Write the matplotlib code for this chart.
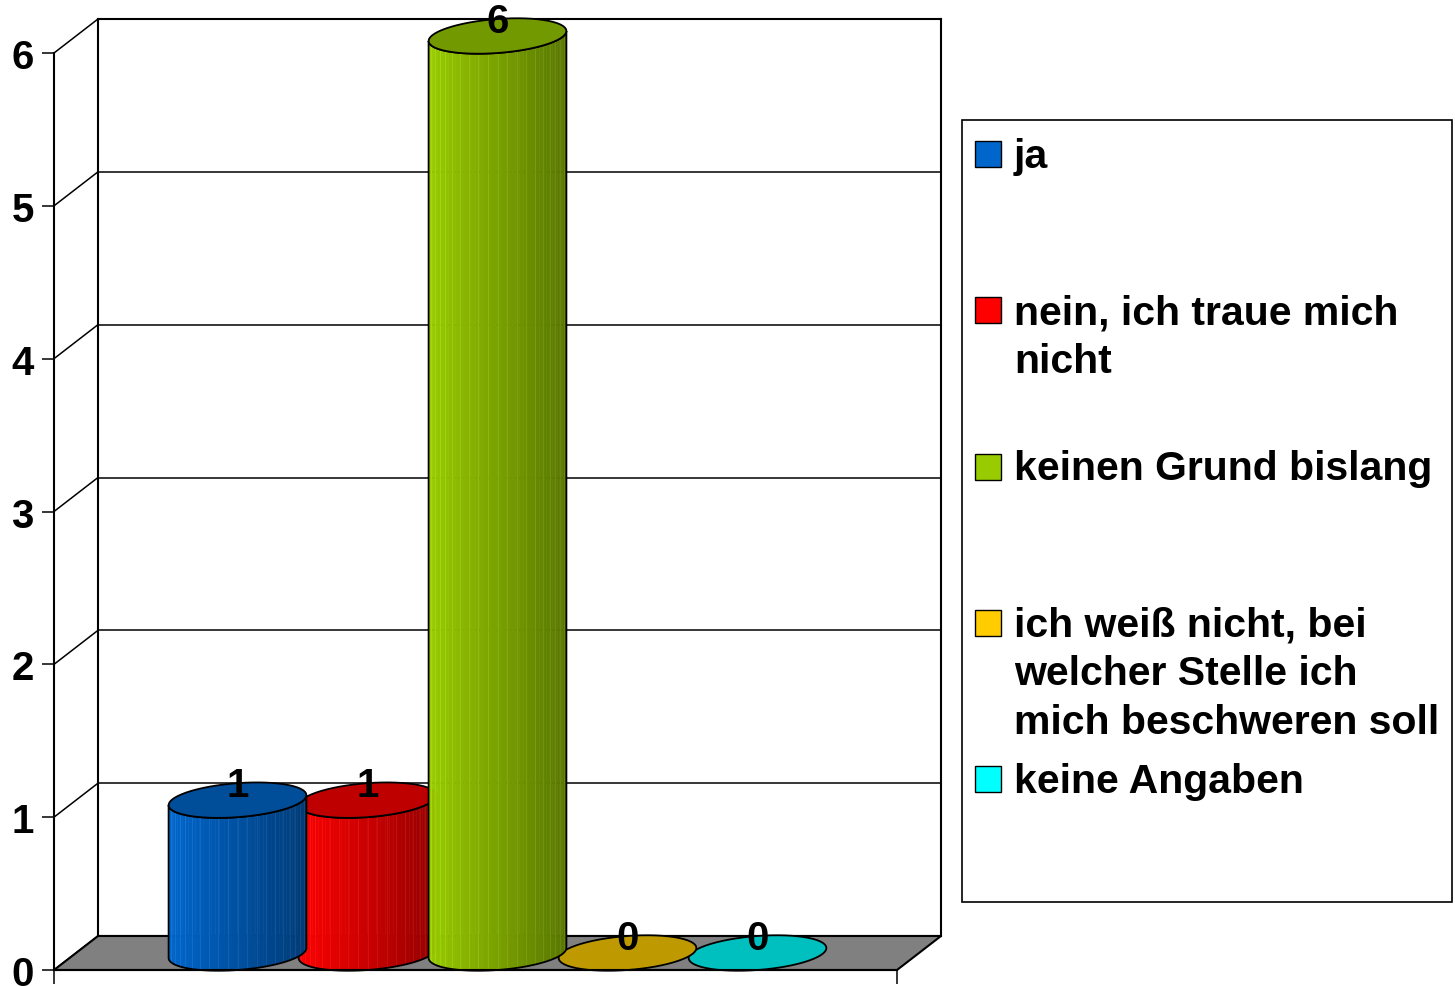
import numpy as np
import matplotlib
matplotlib.use("Agg")
import matplotlib.pyplot as plt
from matplotlib.patches import Polygon, Rectangle
from matplotlib.lines import Line2D
from matplotlib.transforms import ScaledTranslation, IdentityTransform
from matplotlib.colors import to_rgb

# ---------------- data ----------------
categories = ["ja",
              "nein, ich traue mich\nnicht",
              "keinen Grund bislang",
              "ich weiß nicht, bei\nwelcher Stelle ich\nmich beschweren soll",
              "keine Angaben"]
values = [1, 1, 6, 0, 0]
colors = ["#0066CC", "#FF0000", "#99CC00", "#FFCC00", "#00FFFF"]
yticks = [0, 1, 2, 3, 4, 5, 6]

# ---------------- layout / style ----------------
W, H, DPI = 1455, 987, 100
DX, DY = 44, 34          # depth offset of the back wall in pixels
SLOT = 130               # pixels per category step
HALF_W = 0.53            # cylinder radius in category units
ELL_B = 17               # ellipse half-height in px
ELL_T = 5                # ellipse tilt in px
FONT = ["Liberation Sans", "DejaVu Sans"]
FS = 29

fig = plt.figure(figsize=(W / DPI, H / DPI), dpi=DPI)
fig.patch.set_facecolor("white")
L, R, B, T = 54, 897, 971, 54
ax = fig.add_axes([L / W, (H - B) / H, (R - L) / W, (B - T) / H])
ax.patch.set_visible(False)
n = len(values)
half = (R - L) / SLOT / 2
x0, x1 = (n - 1) / 2 - half, (n - 1) / 2 + half
ax.set_xlim(x0, x1)
ax.set_ylim(min(yticks), max(yticks))

ID = IdentityTransform()


def px(x, y, f=0.0):
    p = ax.transData.transform((x, y))
    return np.array([p[0] + f * DX, p[1] + f * DY])


def line(a, b, **kw):
    ax.add_artist(Line2D([a[0], b[0]], [a[1], b[1]], transform=ID, clip_on=False, **kw))


def poly(pts, **kw):
    ax.add_patch(Polygon(pts, closed=True, transform=ID, clip_on=False, **kw))


# ---------------- walls, floor, grid ----------------
frame_lw = 1.5
for xx in (x0, x1):
    line(px(xx, yticks[0], 1), px(xx, yticks[-1], 1), color="black", lw=frame_lw, zorder=1)
for yv in yticks:
    a, b = px(x0, yv, 1), px(x1, yv, 1)
    line(a, b, color="black", lw=frame_lw if yv in (yticks[0], yticks[-1]) else 1.1, zorder=1)
    line(px(x0, yv, 0), a, color="black", lw=1.1, zorder=1)

floor = [px(x0, 0, 0), px(x1, 0, 0), px(x1, 0, 1), px(x0, 0, 1)]
poly(floor, facecolor="#808080", edgecolor="black", lw=frame_lw, zorder=1.5)


# ---------------- cylinders ----------------
def ell_pts(i, v, thetas):
    c = px(i, v, 0.5)
    rpx = px(i + HALF_W, v)[0] - px(i, v)[0]
    return np.column_stack([c[0] + rpx * np.cos(thetas),
                            c[1] + ELL_B * np.sin(thetas) + ELL_T * np.cos(thetas)])


def shade(col, f):
    return tuple(np.clip(np.array(to_rgb(col)) * f, 0, 1))


def cylinder(i, v, col, z):
    N = 48
    th = np.linspace(np.pi, 2 * np.pi, N + 1)
    if v > 0:
        bot = ell_pts(i, 0, th)
        top = ell_pts(i, v, th)
        for k in range(N):
            tm = 0.5 * (th[k] + th[k + 1])
            f = 1.0 - 0.42 * (np.cos(tm) + 1) / 2
            quad = [bot[k], bot[k + 1], top[k + 1], top[k]]
            poly(quad, facecolor=shade(col, f), edgecolor=shade(col, f), lw=0.4, zorder=z)
        NL = 22
        thl = np.linspace(np.pi, 2 * np.pi, NL + 1)[1:-1]
        bl = ell_pts(i, 0, thl)
        tl = ell_pts(i, v, thl)
        for k in range(len(thl)):
            f = 1.0 - 0.42 * (np.cos(thl[k]) + 1) / 2
            lc = tuple(np.clip(np.array(shade(col, f)) + 0.22, 0, 1))
            line(bl[k], tl[k], color=lc, lw=0.6, alpha=0.3, zorder=z + 0.01)
        outline = np.vstack([bot, top[::-1], bot[:1]])
        poly(outline, fill=False, edgecolor="black", lw=1.3, zorder=z + 0.02)
    full = np.linspace(0, 2 * np.pi, 61)
    cap = ell_pts(i, v, full)
    poly(cap, facecolor=shade(col, 0.75), edgecolor="black", lw=1.3, zorder=z + 0.03)


draw_order = [4, 3, 1, 0, 2]
for rank, i in enumerate(draw_order):
    cylinder(i, values[i], colors[i], 3 + rank * 0.1)

lab_tr = ax.transData + ScaledTranslation(DX / 2 / DPI, (DY - 2) / DPI, fig.dpi_scale_trans)
for i, v in enumerate(values):
    ax.text(i, v, f"{v}", transform=lab_tr, ha="center", va="center", clip_on=False,
            fontsize=FS, fontweight="bold", family=FONT, zorder=10)

# ---------------- axes ----------------
for s in ("top", "right"):
    ax.spines[s].set_visible(False)
for s in ("left", "bottom"):
    ax.spines[s].set_linewidth(frame_lw)
    ax.spines[s].set_zorder(6)
ax.set_yticks(yticks)
ax.set_yticklabels([str(t) for t in yticks], fontsize=FS, fontweight="bold", family=FONT)
ax.tick_params(axis="y", length=8.6, width=1.1, pad=6)
ax.set_xticks([x0, x1])
ax.set_xticklabels(["", ""])
ax.tick_params(axis="x", length=10, width=1.1)

# ---------------- legend ----------------
lx0, ly0, lx1, ly1 = 962, 121, 1452, 903
fig.add_artist(Rectangle((lx0 / W, 1 - ly1 / H), (lx1 - lx0) / W, (ly1 - ly0) / H,
                         transform=fig.transFigure, fill=False, edgecolor="black", lw=1.2))
base0, step, line_gap = 168, 156.25, 48.5
for k, (name, col) in enumerate(zip(categories, colors)):
    by = base0 + step * k
    fig.add_artist(Rectangle((975 / W, 1 - by / H), 26 / W, 26 / H, transform=fig.transFigure,
                             facecolor=col, edgecolor="black", lw=1.0))
    for j, ln in enumerate(name.split("\n")):
        fig.text(1014 / W, 1 - (by + j * line_gap) / H, ln, ha="left", va="baseline",
                 fontsize=FS + 0.5, fontweight="bold", family=FONT)

fig.savefig("out.png", dpi=DPI, facecolor="white")
